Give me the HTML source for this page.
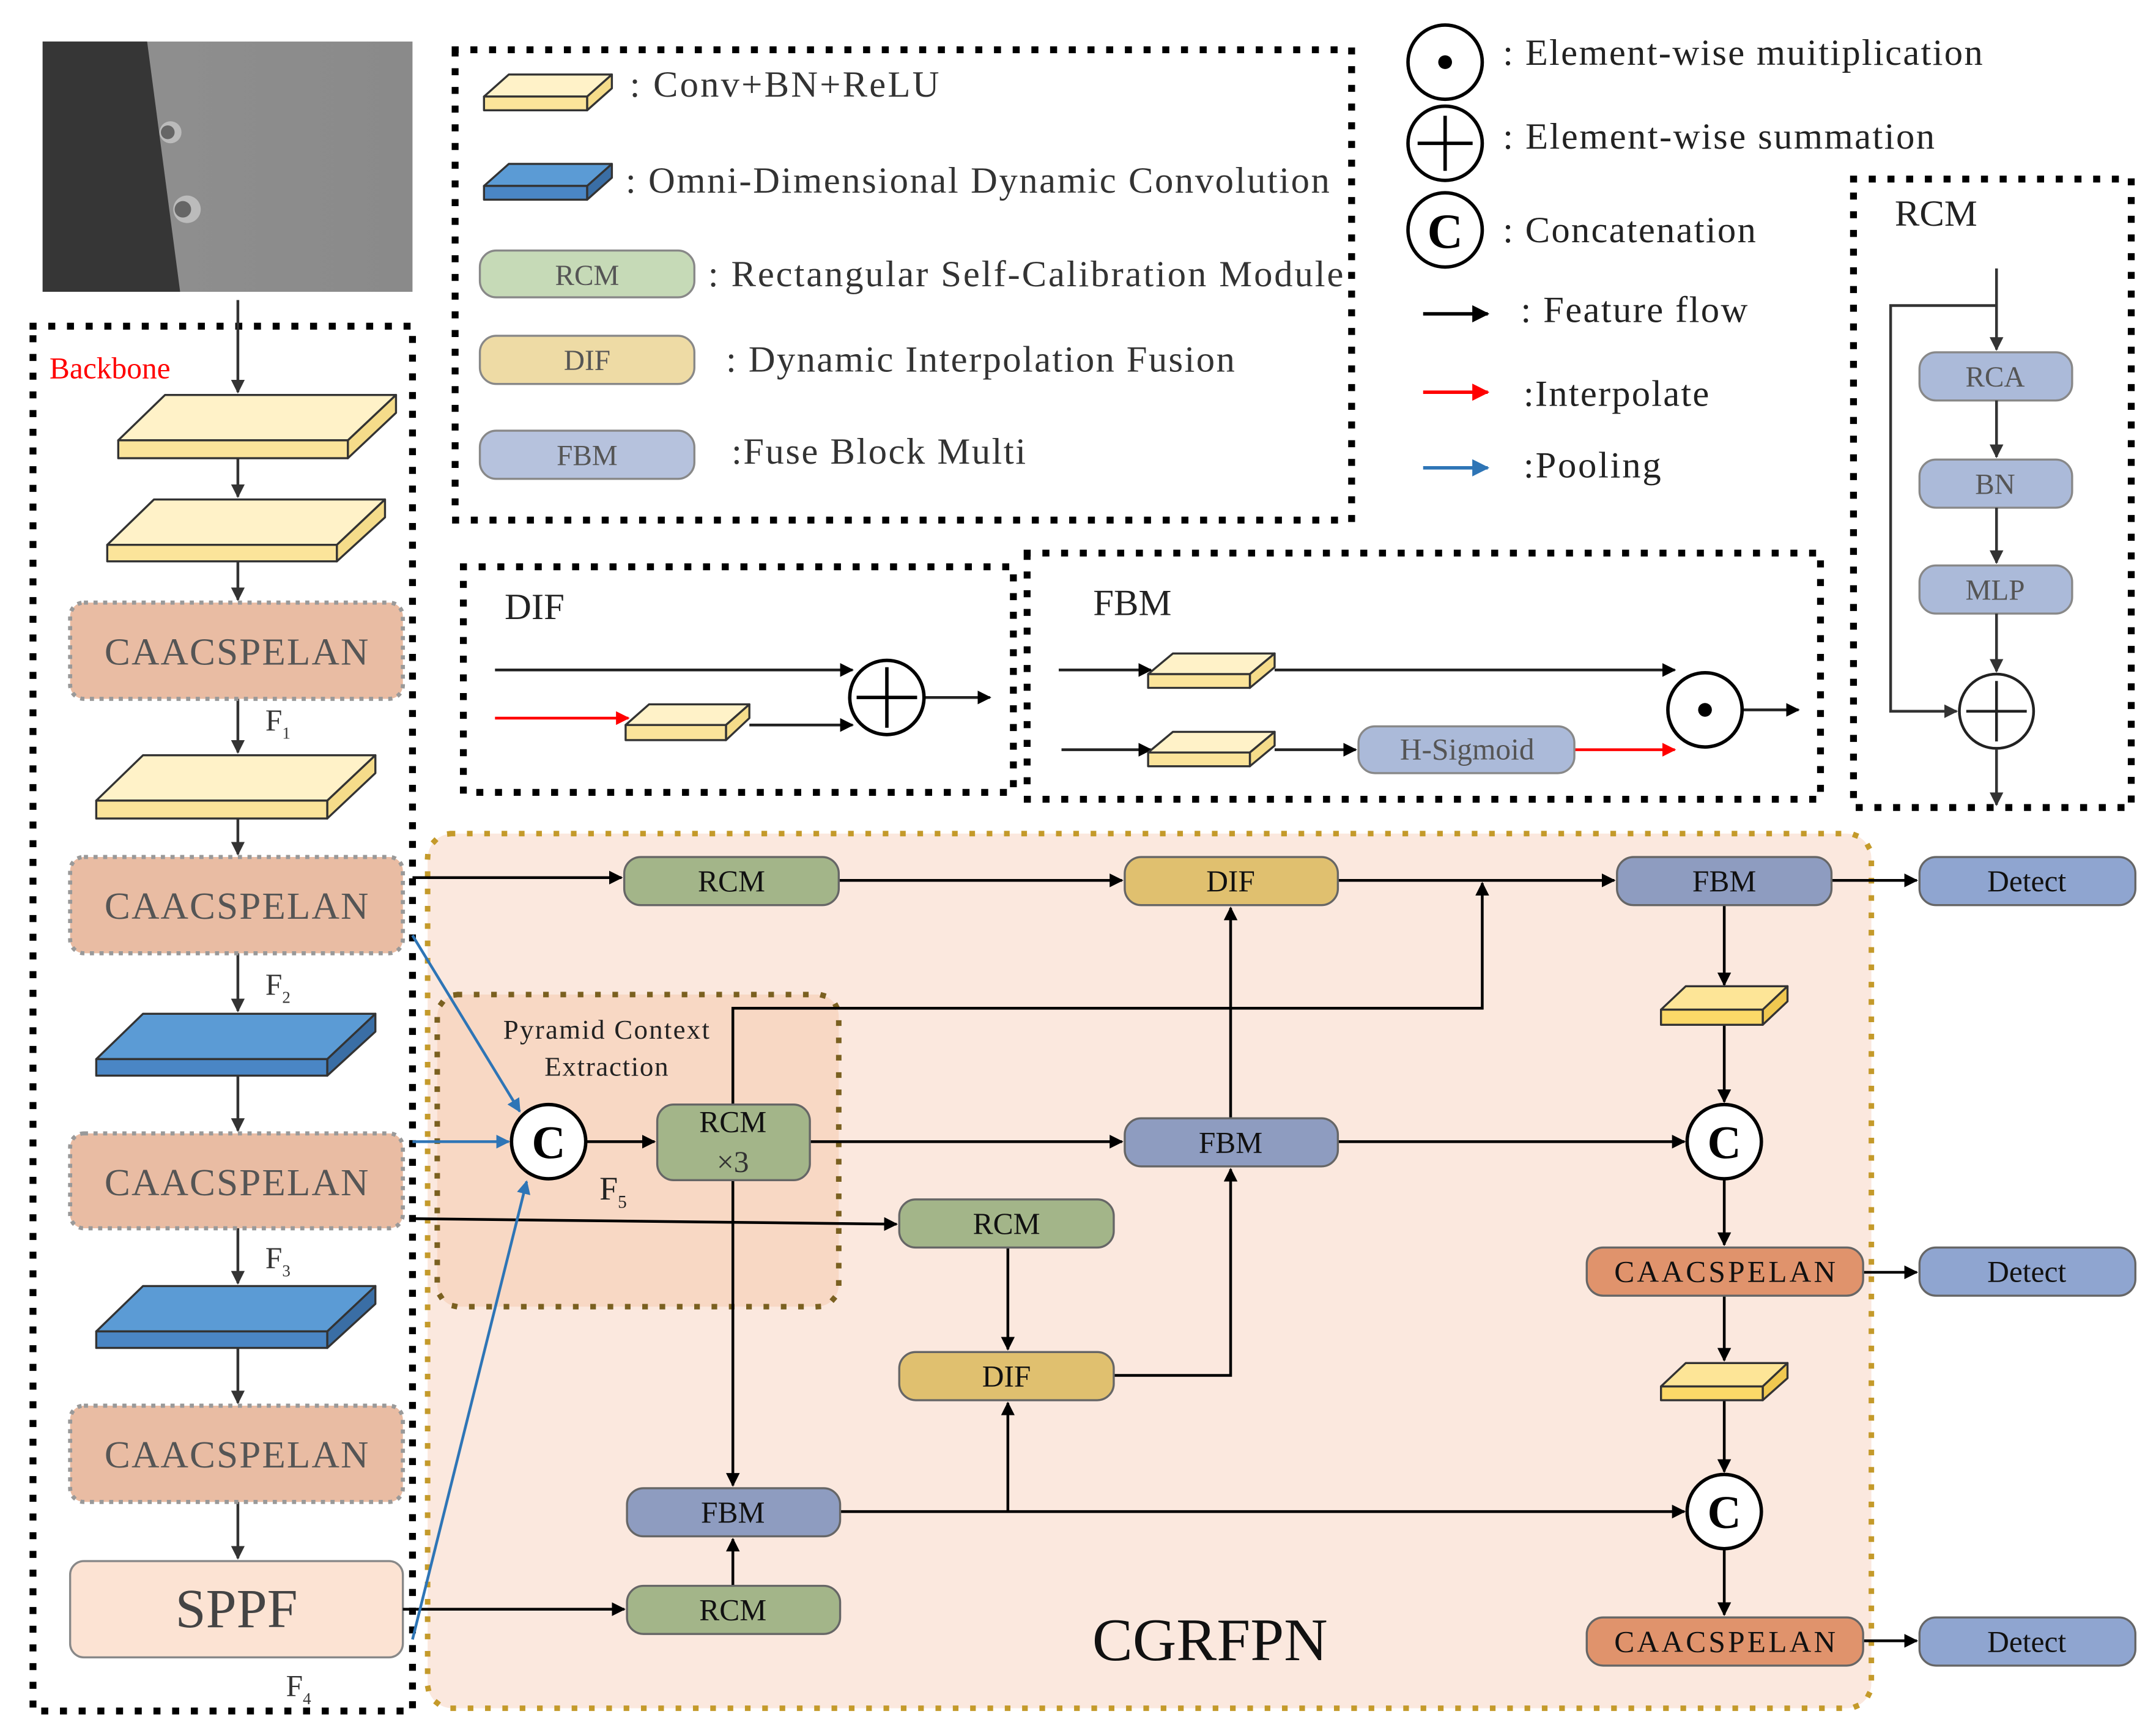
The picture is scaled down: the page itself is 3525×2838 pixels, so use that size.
<!DOCTYPE html>
<html><head><meta charset="utf-8"><style>
html,body{margin:0;padding:0;background:#fff;}
svg{display:block;}
text{font-family:"Liberation Serif",serif;}
</style></head><body>
<svg width="3525" height="2838" viewBox="0 0 1568 1262" xmlns="http://www.w3.org/2000/svg">
<defs>
<marker id="a" viewBox="0 0 10 10" refX="9" refY="5" markerWidth="5" markerHeight="5" orient="auto"><path d="M0,0L10,5L0,10z" fill="#000"/></marker>
<marker id="ag" viewBox="0 0 10 10" refX="9" refY="5" markerWidth="5" markerHeight="5" orient="auto"><path d="M0,0L10,5L0,10z" fill="#333"/></marker>
<marker id="ar" viewBox="0 0 10 10" refX="9" refY="5" markerWidth="5" markerHeight="5" orient="auto"><path d="M0,0L10,5L0,10z" fill="#f00"/></marker>
<marker id="ab" viewBox="0 0 10 10" refX="9" refY="5" markerWidth="5" markerHeight="5" orient="auto"><path d="M0,0L10,5L0,10z" fill="#2e75b6"/></marker>
<linearGradient id="ph" x1="0" x2="1"><stop offset="0" stop-color="#909090"/><stop offset="1" stop-color="#8a8a8a"/></linearGradient>
</defs>

<rect x="31" y="30" width="269" height="182" fill="url(#ph)"/>
<polygon points="31,30 107,30 131,212 31,212" fill="#363636"/>
<circle cx="124" cy="96" r="8" fill="#bbb"/><circle cx="122" cy="96" r="5" fill="#666"/>
<circle cx="136" cy="152" r="10" fill="#bbb"/><circle cx="133" cy="152" r="6" fill="#666"/>

<rect x="24" y="237" width="276" height="1007" fill="none" stroke="#000" stroke-width="5" stroke-dasharray="0.1 13.5" stroke-linecap="square"/>
<text x="36" y="275" font-size="22" fill="#f00">Backbone</text>

<g stroke="#333" stroke-width="2" fill="none" marker-end="url(#ag)">
<line x1="173" y1="218" x2="173" y2="285"/>
<line x1="173" y1="333" x2="173" y2="361"/>
<line x1="173" y1="408" x2="173" y2="436"/>
<line x1="173" y1="508" x2="173" y2="547"/>
<line x1="173" y1="595" x2="173" y2="621"/>
<line x1="173" y1="693" x2="173" y2="735"/>
<line x1="173" y1="782" x2="173" y2="822"/>
<line x1="173" y1="893" x2="173" y2="933"/>
<line x1="173" y1="980" x2="173" y2="1020"/>
<line x1="173" y1="1092" x2="173" y2="1133"/>
</g>

<g stroke="#333" stroke-width="1.5" stroke-linejoin="round">
<polygon points="86,320 120,287 288,287 253,320" fill="#fff2c8"/><polygon points="253,320 288,287 288,300 253,333" fill="#f5dc8a"/><rect x="86" y="320" width="167" height="13" fill="#fbe49a"/>
<polygon points="78,396 112,363 280,363 245,396" fill="#fff2c8"/><polygon points="245,396 280,363 280,376 245,408" fill="#f5dc8a"/><rect x="78" y="396" width="167" height="12" fill="#fbe49a"/>
<polygon points="70,582 104,549 273,549 238,582" fill="#fff2c8"/><polygon points="238,582 273,549 273,562 238,595" fill="#f5dc8a"/><rect x="70" y="582" width="168" height="13" fill="#fbe49a"/>
<polygon points="70,770 104,737 273,737 238,770" fill="#5b9bd5"/><polygon points="238,770 273,737 273,750 238,782" fill="#3a6ea5"/><rect x="70" y="770" width="168" height="12" fill="#4a86c5"/>
<polygon points="70,968 104,935 273,935 238,968" fill="#5b9bd5"/><polygon points="238,968 273,935 273,948 238,980" fill="#3a6ea5"/><rect x="70" y="968" width="168" height="12" fill="#4a86c5"/>
</g>

<g fill="#e9bca3" stroke="#999" stroke-width="3" stroke-dasharray="3 4">
<rect x="51" y="438" width="242" height="70" rx="10"/>
<rect x="51" y="623" width="242" height="70" rx="10"/>
<rect x="51" y="824" width="242" height="69" rx="10"/>
<rect x="51" y="1022" width="242" height="70" rx="10"/>
</g>
<g font-size="28" fill="#555">
<text x="76" y="483" textLength="192">CAACSPELAN</text>
<text x="76" y="668" textLength="192">CAACSPELAN</text>
<text x="76" y="869" textLength="192">CAACSPELAN</text>
<text x="76" y="1067" textLength="192">CAACSPELAN</text>
</g>
<rect x="51" y="1135" width="242" height="70" rx="10" fill="#fce3d3" stroke="#888" stroke-width="1.5"/>
<text x="172" y="1183" font-size="40" fill="#444" text-anchor="middle">SPPF</text>
<g font-size="22" fill="#333"><text x="193" y="531">F<tspan font-size="12" dy="6">1</tspan></text>
<text x="193" y="723">F<tspan font-size="12" dy="6">2</tspan></text>
<text x="193" y="922">F<tspan font-size="12" dy="6">3</tspan></text>
<text x="208" y="1233">F<tspan font-size="12" dy="6">4</tspan></text></g>

<rect x="331" y="36" width="652" height="342" fill="none" stroke="#000" stroke-width="5" stroke-dasharray="0.1 13.5" stroke-linecap="square"/>
<g stroke="#333" stroke-width="1.5" stroke-linejoin="round">
<polygon points="352,70 370,54 445,54 427,70" fill="#fff2c8"/><polygon points="427,70 445,54 445,64 427,80" fill="#f5dc8a"/><rect x="352" y="70" width="75" height="10" fill="#fbe49a"/>
<polygon points="352,135 370,119 445,119 427,135" fill="#5b9bd5"/><polygon points="427,135 445,119 445,129 427,145" fill="#3a6ea5"/><rect x="352" y="135" width="75" height="10" fill="#4a86c5"/>
</g>
<rect x="349" y="182" width="156" height="34" rx="12" fill="#c6dab7" stroke="#888" stroke-width="1.5"/>
<rect x="349" y="244" width="156" height="35" rx="12" fill="#eedba5" stroke="#888" stroke-width="1.5"/>
<rect x="349" y="313" width="156" height="35" rx="12" fill="#b6c2dd" stroke="#888" stroke-width="1.5"/>
<g font-size="21" fill="#555" text-anchor="middle"><text x="427" y="207">RCM</text><text x="427" y="269">DIF</text><text x="427" y="338">FBM</text></g>
<g font-size="27" fill="#333">
<text x="458" y="70" textLength="225">: Conv+BN+ReLU</text>
<text x="455" y="140" textLength="512">: Omni-Dimensional Dynamic Convolution</text>
<text x="515" y="208" textLength="462">:  Rectangular Self-Calibration Module</text>
<text x="528" y="270" textLength="370">: Dynamic Interpolation Fusion</text>
<text x="532" y="337" textLength="214">:Fuse Block Multi</text>
</g>

<g fill="none" stroke="#000" stroke-width="2.5">
<circle cx="1051" cy="45" r="27"/><circle cx="1051" cy="104" r="27"/><circle cx="1051" cy="167" r="27"/>
<line x1="1031" y1="104" x2="1071" y2="104"/><line x1="1051" y1="84" x2="1051" y2="124"/>
</g>
<circle cx="1051" cy="45" r="5" fill="#000"/>
<text x="1051" y="180" font-size="36" font-weight="bold" text-anchor="middle">C</text>
<g font-size="27" fill="#222">
<text x="1093" y="47" textLength="349">: Element-wise muitiplication</text>
<text x="1093" y="108" textLength="314">: Element-wise summation</text>
<text x="1093" y="176" textLength="184">: Concatenation</text>
<text x="1106" y="234" textLength="165">: Feature flow</text>
<text x="1108" y="295" textLength="135">:Interpolate</text>
<text x="1108" y="347" textLength="100">:Pooling</text>
</g>
<line x1="1035" y1="228" x2="1082" y2="228" stroke="#000" stroke-width="2.5" marker-end="url(#a)"/>
<line x1="1035" y1="285" x2="1082" y2="285" stroke="#f00" stroke-width="2.5" marker-end="url(#ar)"/>
<line x1="1035" y1="340" x2="1082" y2="340" stroke="#2e75b6" stroke-width="2.5" marker-end="url(#ab)"/>

<rect x="1348" y="130" width="202" height="457" fill="none" stroke="#000" stroke-width="5" stroke-dasharray="0.1 13.5" stroke-linecap="square"/>
<text x="1378" y="164" font-size="27" fill="#222">RCM</text>
<g fill="#abbad9" stroke="#888" stroke-width="1.5">
<rect x="1396" y="256" width="111" height="35" rx="12"/><rect x="1396" y="334" width="111" height="35" rx="12"/><rect x="1396" y="411" width="111" height="35" rx="12"/>
</g>
<g font-size="21" fill="#555" text-anchor="middle"><text x="1451" y="281">RCA</text><text x="1451" y="359">BN</text><text x="1451" y="436">MLP</text></g>
<g stroke="#333" stroke-width="2" fill="none" marker-end="url(#ag)">
<line x1="1452" y1="195" x2="1452" y2="254"/>
<line x1="1452" y1="291" x2="1452" y2="332"/>
<line x1="1452" y1="369" x2="1452" y2="409"/>
<line x1="1452" y1="446" x2="1452" y2="488"/>
<line x1="1452" y1="545" x2="1452" y2="585"/>
<polyline points="1452,222 1375,222 1375,517 1423,517"/>
</g>
<g fill="none" stroke="#222" stroke-width="2"><circle cx="1452" cy="517" r="27"/><line x1="1430" y1="517" x2="1474" y2="517"/><line x1="1452" y1="495" x2="1452" y2="539"/></g>

<rect x="337" y="412" width="400" height="164" fill="none" stroke="#000" stroke-width="5" stroke-dasharray="0.1 13.5" stroke-linecap="square"/>
<text x="367" y="450" font-size="27" fill="#222">DIF</text>
<g stroke="#222" stroke-width="2" fill="none" marker-end="url(#a)">
<line x1="360" y1="487" x2="620" y2="487"/>
<line x1="545" y1="527" x2="620" y2="527"/>
<line x1="672" y1="507" x2="720" y2="507"/>
</g>
<line x1="360" y1="522" x2="457" y2="522" stroke="#f00" stroke-width="2" marker-end="url(#ar)"/>
<g stroke="#333" stroke-width="1.5" stroke-linejoin="round">
<polygon points="455,527 472,512 545,512 528,527" fill="#fff2c8"/><polygon points="528,527 545,512 545,522 528,538" fill="#f5dc8a"/><rect x="455" y="527" width="73" height="11" fill="#fbe49a"/>
</g>
<g fill="#fff" stroke="#000" stroke-width="2.5"><circle cx="645" cy="507" r="27"/></g>
<g stroke="#000" stroke-width="2.5"><line x1="623" y1="507" x2="667" y2="507"/><line x1="645" y1="485" x2="645" y2="529"/></g>

<rect x="747" y="402" width="577" height="179" fill="none" stroke="#000" stroke-width="5" stroke-dasharray="0.1 13.5" stroke-linecap="square"/>
<text x="795" y="447" font-size="27" fill="#222">FBM</text>
<g stroke="#222" stroke-width="2" fill="none" marker-end="url(#a)">
<line x1="770" y1="487" x2="837" y2="487"/>
<line x1="927" y1="487" x2="1218" y2="487"/>
<line x1="772" y1="545" x2="837" y2="545"/>
<line x1="927" y1="545" x2="986" y2="545"/>
<line x1="1267" y1="516" x2="1308" y2="516"/>
</g>
<line x1="1145" y1="545" x2="1218" y2="545" stroke="#f00" stroke-width="2" marker-end="url(#ar)"/>
<g stroke="#333" stroke-width="1.5" stroke-linejoin="round">
<polygon points="835,490 853,475 927,475 909,490" fill="#fff2c8"/><polygon points="909,490 927,475 927,485 909,500" fill="#f5dc8a"/><rect x="835" y="490" width="74" height="10" fill="#fbe49a"/>
<polygon points="835,547 853,532 927,532 909,547" fill="#fff2c8"/><polygon points="909,547 927,532 927,542 909,557" fill="#f5dc8a"/><rect x="835" y="547" width="74" height="10" fill="#fbe49a"/>
</g>
<rect x="988" y="528" width="157" height="34" rx="12" fill="#abbad9" stroke="#888" stroke-width="1.5"/>
<text x="1067" y="552" font-size="22" fill="#555" text-anchor="middle">H-Sigmoid</text>
<circle cx="1240" cy="516" r="27" fill="#fff" stroke="#000" stroke-width="2.5"/><circle cx="1240" cy="516" r="5" fill="#000"/>

<rect x="311" y="606" width="1050" height="636" rx="18" fill="#fbe8de" stroke="#c49a2a" stroke-width="4" stroke-dasharray="0.1 12.5" stroke-linecap="square"/>
<rect x="318" y="723" width="292" height="227" rx="16" fill="#f8d8c4" stroke="#7a6020" stroke-width="4" stroke-dasharray="0.1 12.5" stroke-linecap="square"/>
<text x="366" y="755" font-size="20" fill="#222" textLength="150">Pyramid Context</text>
<text x="396" y="782" font-size="20" fill="#222" textLength="90">Extraction</text>
<text x="880" y="1207" font-size="44" text-anchor="middle" fill="#111">CGRFPN</text>
<text x="436" y="872" font-size="24" fill="#222">F<tspan font-size="13" dy="6">5</tspan></text>

<g stroke="#000" stroke-width="2" fill="none" marker-end="url(#a)">
<line x1="300" y1="638" x2="452" y2="638"/>
<line x1="610" y1="640" x2="816" y2="640"/>
<line x1="973" y1="640" x2="1174" y2="640"/>
<line x1="1332" y1="640" x2="1394" y2="640"/>
<line x1="1254" y1="658" x2="1254" y2="716"/>
<line x1="1254" y1="745" x2="1254" y2="801"/>
<line x1="426" y1="830" x2="476" y2="830"/>
<line x1="589" y1="830" x2="816" y2="830"/>
<line x1="973" y1="830" x2="1225" y2="830"/>
<polyline points="533,803 533,733 1078,733 1078,642"/>
<line x1="533" y1="858" x2="533" y2="1080"/>
<line x1="300" y1="886" x2="652" y2="890"/>
<line x1="733" y1="907" x2="733" y2="981"/>
<polyline points="810,1000 895,1000 895,850"/>
<line x1="895" y1="813" x2="895" y2="660"/>
<line x1="611" y1="1099" x2="1225" y2="1099"/>
<line x1="733" y1="1099" x2="733" y2="1020"/>
<line x1="293" y1="1170" x2="454" y2="1170"/>
<line x1="533" y1="1153" x2="533" y2="1119"/>
<line x1="1254" y1="857" x2="1254" y2="905"/>
<line x1="1355" y1="925" x2="1394" y2="925"/>
<line x1="1254" y1="942" x2="1254" y2="989"/>
<line x1="1254" y1="1018" x2="1254" y2="1070"/>
<line x1="1254" y1="1126" x2="1254" y2="1174"/>
<line x1="1355" y1="1193" x2="1394" y2="1193"/>
</g>
<g stroke="#2e75b6" stroke-width="2" fill="none" marker-end="url(#ab)">
<line x1="300" y1="680" x2="378" y2="808"/>
<line x1="300" y1="830" x2="370" y2="830"/>
<line x1="300" y1="1192" x2="383" y2="859"/>
</g>

<g stroke="#666" stroke-width="1.5">
<rect x="454" y="623" width="156" height="35" rx="12" fill="#a3b589"/>
<rect x="478" y="803" width="111" height="55" rx="12" fill="#a3b589"/>
<rect x="654" y="872" width="156" height="35" rx="12" fill="#a3b589"/>
<rect x="456" y="1153" width="155" height="35" rx="12" fill="#a3b589"/>
<rect x="818" y="623" width="155" height="35" rx="12" fill="#e0c06f"/>
<rect x="654" y="983" width="156" height="35" rx="12" fill="#e0c06f"/>
<rect x="1176" y="623" width="156" height="35" rx="12" fill="#8e9cc0"/>
<rect x="818" y="813" width="155" height="35" rx="12" fill="#8e9cc0"/>
<rect x="456" y="1082" width="155" height="35" rx="12" fill="#8e9cc0"/>
<rect x="1396" y="623" width="157" height="35" rx="12" fill="#8fa5d0"/>
<rect x="1396" y="907" width="157" height="35" rx="12" fill="#8fa5d0"/>
<rect x="1396" y="1176" width="157" height="35" rx="12" fill="#8fa5d0"/>
<rect x="1154" y="907" width="201" height="35" rx="12" fill="#e0936c"/>
<rect x="1154" y="1176" width="201" height="35" rx="12" fill="#e0936c"/>
</g>
<g font-size="22" fill="#111" text-anchor="middle">
<text x="532" y="648">RCM</text>
<text x="533" y="823">RCM</text><text x="533" y="852" fill="#333">×3</text>
<text x="732" y="897">RCM</text>
<text x="533" y="1178">RCM</text>
<text x="895" y="648">DIF</text>
<text x="732" y="1008">DIF</text>
<text x="1254" y="648">FBM</text>
<text x="895" y="838">FBM</text>
<text x="533" y="1107">FBM</text>
<text x="1474" y="648">Detect</text>
<text x="1474" y="932">Detect</text>
<text x="1474" y="1201">Detect</text>
</g>
<g font-size="22" fill="#111">
<text x="1174" y="932" textLength="161">CAACSPELAN</text>
<text x="1174" y="1201" textLength="161">CAACSPELAN</text>
</g>
<g stroke="#333" stroke-width="1.5" stroke-linejoin="round">
<polygon points="1208,734 1226,717 1300,717 1282,734" fill="#fde597"/><polygon points="1282,734 1300,717 1300,728 1282,745" fill="#f0c850"/><rect x="1208" y="734" width="74" height="11" fill="#fcd968"/>
<polygon points="1208,1008 1226,991 1300,991 1282,1008" fill="#fde597"/><polygon points="1282,1008 1300,991 1300,1002 1282,1018" fill="#f0c850"/><rect x="1208" y="1008" width="74" height="10" fill="#fcd968"/>
</g>
<g fill="#fff" stroke="#000" stroke-width="2.5">
<circle cx="399" cy="830" r="27"/><circle cx="1254" cy="830" r="27"/><circle cx="1254" cy="1099" r="27"/>
</g>
<g font-size="34" font-weight="bold" text-anchor="middle">
<text x="399" y="842">C</text><text x="1254" y="842">C</text><text x="1254" y="1111">C</text>
</g>
</svg>
</body></html>
